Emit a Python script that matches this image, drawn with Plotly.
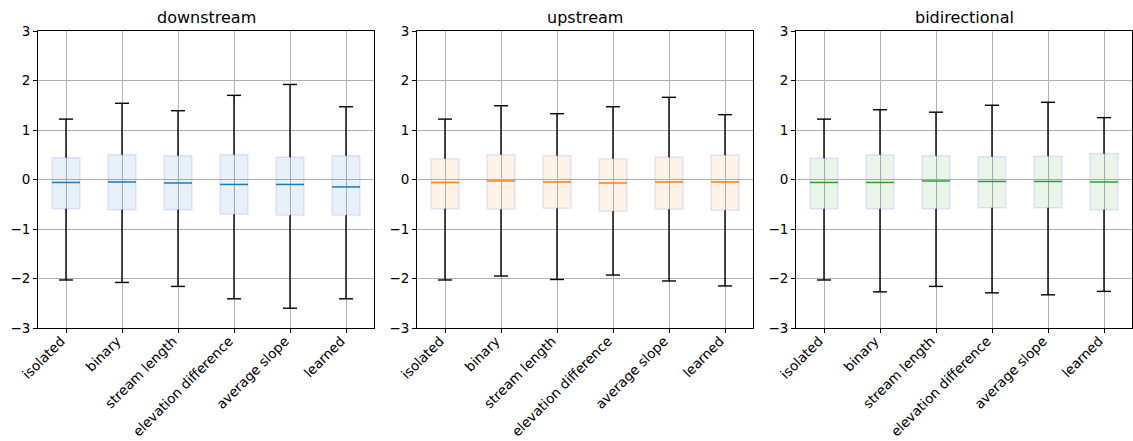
import plotly.graph_objects as go

categories = ["isolated", "binary", "stream length", "elevation difference",
              "average slope", "learned"]
panels = ["downstream", "upstream", "bidirectional"]

# per-panel box statistics, one value per category
lower_whisker = {
    "downstream":    [-2.03, -2.08, -2.16, -2.41, -2.60, -2.41],
    "upstream":      [-2.03, -1.95, -2.02, -1.93, -2.05, -2.15],
    "bidirectional": [-2.03, -2.27, -2.16, -2.29, -2.33, -2.26],
}
q1 = {
    "downstream":    [-0.59, -0.61, -0.61, -0.70, -0.72, -0.72],
    "upstream":      [-0.59, -0.60, -0.58, -0.64, -0.60, -0.62],
    "bidirectional": [-0.59, -0.59, -0.59, -0.57, -0.57, -0.61],
}
median = {
    "downstream":    [-0.06, -0.05, -0.07, -0.10, -0.10, -0.15],
    "upstream":      [-0.06, -0.03, -0.05, -0.07, -0.05, -0.05],
    "bidirectional": [-0.06, -0.06, -0.03, -0.04, -0.04, -0.05],
}
q3 = {
    "downstream":    [0.44, 0.50, 0.48, 0.50, 0.45, 0.48],
    "upstream":      [0.42, 0.50, 0.48, 0.42, 0.45, 0.49],
    "bidirectional": [0.43, 0.50, 0.48, 0.46, 0.47, 0.52],
}
upper_whisker = {
    "downstream":    [1.22, 1.54, 1.39, 1.70, 1.92, 1.47],
    "upstream":      [1.22, 1.49, 1.33, 1.47, 1.66, 1.31],
    "bidirectional": [1.22, 1.41, 1.36, 1.50, 1.56, 1.25],
}
y_ticks = [-3, -2, -1, 0, 1, 2, 3]

median_colors = {"downstream": "#1f77b4", "upstream": "#ff7f0e", "bidirectional": "#2ca02c"}
fill_colors = {"downstream": "rgba(31,119,180,0.1)", "upstream": "rgba(255,127,14,0.1)",
               "bidirectional": "rgba(44,160,44,0.1)"}
edge_color = "rgba(0,0,255,0.1)"

W, H = 1133, 441
x_domains = [(38 / W, 374 / W), (417 / W, 753 / W), (796 / W, 1132 / W)]
y_domain = (1 - 328 / H, 1 - 31 / H)

box_half = 0.25
cap_half = 0.125
font = "DejaVu Sans"

fig = go.Figure()

for p, name in enumerate(panels):
    xa = "x" if p == 0 else f"x{p + 1}"
    ya = "y" if p == 0 else f"y{p + 1}"

    # filled boxes from q1 to q3
    for i in range(len(categories)):
        x0, x1 = i - box_half, i + box_half
        fig.add_trace(go.Scatter(
            x=[x0, x1, x1, x0, x0],
            y=[q1[name][i], q1[name][i], q3[name][i], q3[name][i], q1[name][i]],
            fill="toself", fillcolor=fill_colors[name],
            line=dict(color=edge_color, width=1.4),
            mode="lines", xaxis=xa, yaxis=ya, showlegend=False, hoverinfo="skip"))

    # whiskers and caps
    wx, wy = [], []
    for i in range(len(categories)):
        wx += [i, i, None, i, i, None]
        wy += [q3[name][i], upper_whisker[name][i], None,
               q1[name][i], lower_whisker[name][i], None]
        wx += [i - cap_half, i + cap_half, None, i - cap_half, i + cap_half, None]
        wy += [upper_whisker[name][i], upper_whisker[name][i], None,
               lower_whisker[name][i], lower_whisker[name][i], None]
    fig.add_trace(go.Scatter(x=wx, y=wy, mode="lines",
                             line=dict(color="black", width=1.4),
                             xaxis=xa, yaxis=ya, showlegend=False, hoverinfo="skip"))

    # medians
    mx, my = [], []
    for i in range(len(categories)):
        mx += [i - box_half, i + box_half, None]
        my += [median[name][i], median[name][i], None]
    fig.add_trace(go.Scatter(x=mx, y=my, mode="lines",
                             line=dict(color=median_colors[name], width=1.5),
                             xaxis=xa, yaxis=ya, showlegend=False, hoverinfo="skip"))

    axis_common = dict(showline=True, linecolor="black", linewidth=1, mirror=True,
                       showgrid=True, gridcolor="#b0b0b0", gridwidth=0.8,
                       zeroline=False, ticks="outside", ticklen=4, tickwidth=1,
                       tickcolor="black", automargin=False,
                       tickfont=dict(family=font, size=13.5, color="black"))
    fig.update_layout({
        ("xaxis" if p == 0 else f"xaxis{p + 1}"): dict(
            domain=list(x_domains[p]), anchor=ya, range=[-0.5, 5.5],
            tickmode="array", tickvals=list(range(len(categories))),
            ticktext=categories, tickangle=-45,
            ticklabelshift=-5, ticklabelstandoff=-5, **axis_common),
        ("yaxis" if p == 0 else f"yaxis{p + 1}"): dict(
            domain=list(y_domain), anchor=xa, range=[-3, 3],
            tickmode="array", tickvals=y_ticks,
            ticktext=[str(t).replace("-", "\u2212") for t in y_ticks], **axis_common),
    })

    fig.add_annotation(text=name, xref="paper", yref="paper",
                       x=sum(x_domains[p]) / 2, y=1 - 17 / H,
                       xanchor="center", yanchor="middle", showarrow=False,
                       font=dict(family=font, size=16, color="black"))

fig.update_layout(width=W, height=H, margin=dict(l=0, r=0, t=0, b=0),
                  paper_bgcolor="white", plot_bgcolor="white", showlegend=False)

fig.write_html("out.html")
